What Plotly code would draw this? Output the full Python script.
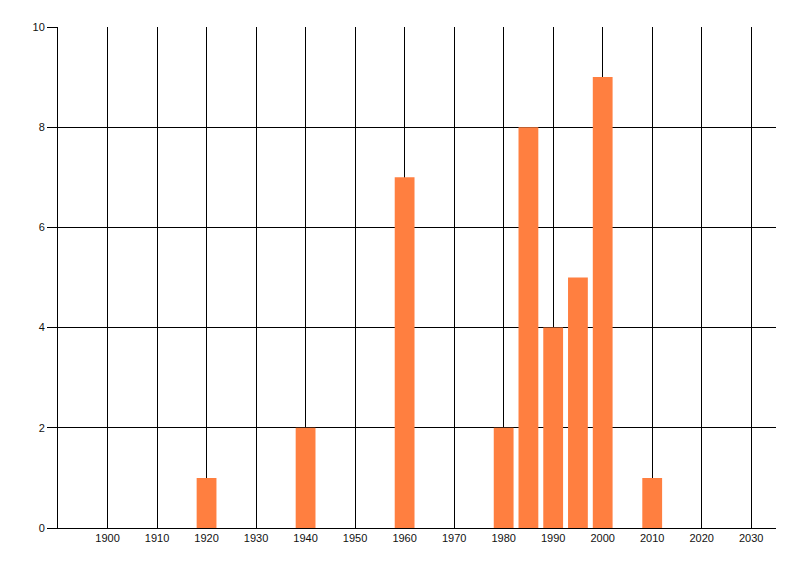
import plotly.graph_objs as go

years = [1920, 1940, 1960, 1980, 1985, 1990, 1995, 2000, 2010]
counts = [1, 2, 7, 2, 8, 4, 5, 9, 1]
x_ticks = list(range(1900, 2031, 10))

bar_color = "#FF7F40"

trace = go.Bar(
    x=years,
    y=counts,
    width=4,
    marker=dict(color=bar_color, line=dict(width=0)),
)

# page body has an 8px margin, so margins are shifted to match
layout = dict(
    width=800, height=576,
    margin=dict(l=50, r=32, t=19, b=56, autoexpand=False),
    plot_bgcolor="white", paper_bgcolor="white",
    showlegend=False,
    font=dict(family="Liberation Sans, Arial, sans-serif", size=11, color="#111111"),
    xaxis=dict(
        range=[1890, 2035], tickvals=x_ticks, ticks="",
        showgrid=True, gridcolor="black", gridwidth=1,
        showline=True, linecolor="black", linewidth=1,
        zeroline=False, automargin=False,
    ),
    yaxis=dict(
        range=[0, 10], dtick=2, ticks="outside", ticklen=10, tickcolor="black",
        showgrid=True, gridcolor="black", gridwidth=1,
        showline=True, linecolor="black", linewidth=1,
        zeroline=False, automargin=False,
    ),
)

fig = go.Figure(data=[trace], layout=layout)
fig.write_html("out.html")
